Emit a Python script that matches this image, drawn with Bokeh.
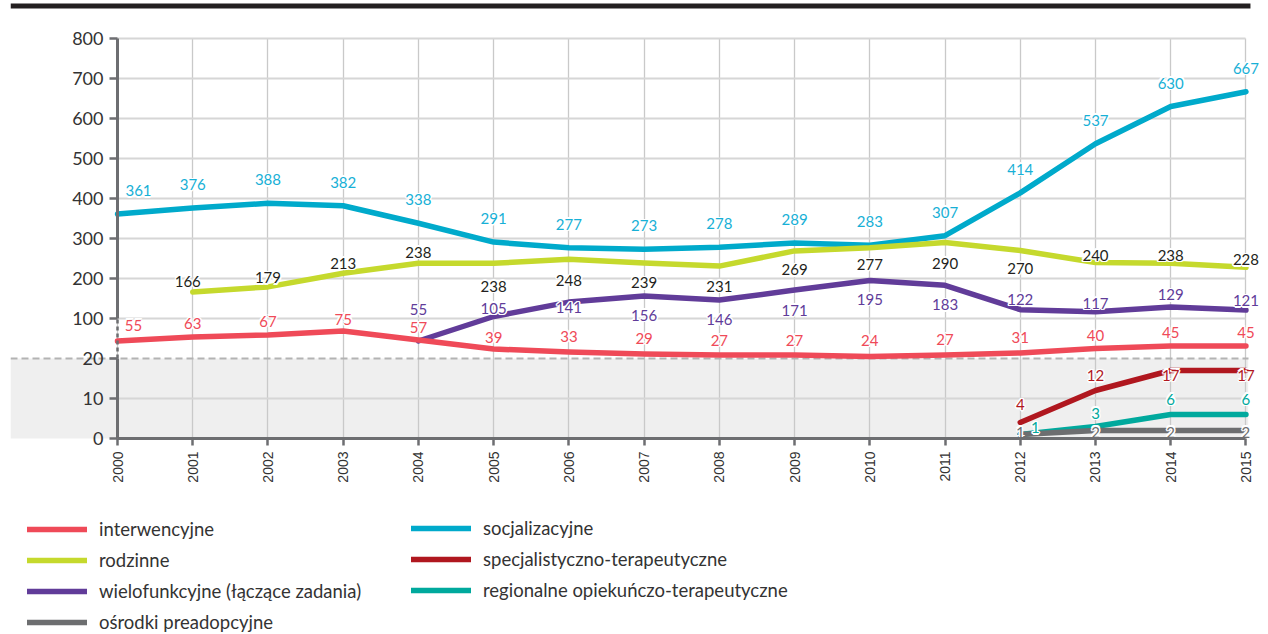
import math
import numpy as np
from bokeh.plotting import figure
from bokeh.models import (Range1d, LinearAxis, FixedTicker, Grid, BoxAnnotation,
                          ColumnDataSource, CustomJSTransform, Legend, LegendItem)
from bokeh.transform import transform
from bokeh.core.properties import value
from bokeh.embed import file_html
from bokeh.resources import INLINE

# ---------------- data ----------------
years = list(range(2000, 2016))
interwencyjne = [55, 63, 67, 75, 57, 39, 33, 29, 27, 27, 24, 27, 31, 40, 45, 45]
socjalizacyjne = [361, 376, 388, 382, 338, 291, 277, 273, 278, 289, 283, 307, 414, 537, 630, 667]
rodzinne = [None, 166, 179, 213, 238, 238, 248, 239, 231, 269, 277, 290, 270, 240, 238, 228]
wielofunkcyjne = [None, None, None, None, 55, 105, 141, 156, 146, 171, 195, 183, 122, 117, 129, 121]
specjalistyczno_terapeutyczne = [None] * 12 + [4, 12, 17, 17]
regionalne_opiekunczo_terapeutyczne = [None] * 12 + [1, 3, 6, 6]
osrodki_preadopcyjne = [None] * 12 + [1, 2, 2, 2]

y_tick_values = [0, 10, 20, 100, 200, 300, 400, 500, 600, 700, 800]

# ---------------- broken (piecewise) y scale ----------------
SEG_JS = """
function f(v) {
  if (v <= 20) return 4 * v;
  if (v <= 100) return 80 + (v - 20) * 0.5;
  return 120 + (v - 100) * 0.4;
}
"""
yt = CustomJSTransform(func=SEG_JS + "return f(x);",
                       v_func=SEG_JS + "const out = new Float64Array(xs.length); for (let i = 0; i < xs.length; i++) out[i] = f(xs[i]); return out;")


def disp(v):
    if v <= 20:
        return 4 * v
    if v <= 100:
        return 80 + (v - 20) * 0.5
    return 120 + (v - 100) * 0.4


# ---------------- layout constants ----------------
W, H = 1268, 634
LEFT_BORDER = 10
PX_PER_YEAR = 75.23
X_START = years[0] - (117 - LEFT_BORDER) / PX_PER_YEAR
X_END = X_START + (W - LEFT_BORDER) / PX_PER_YEAR
Y_END = disp(0) + 438          # frame top = page top
Y_START = Y_END - H

FONT = value("Lato")
AX = "#6d6e71"
TXT = "#333333"

p = figure(width=W, height=H, x_range=Range1d(X_START, X_END), y_range=Range1d(Y_START, Y_END),
           output_backend="svg", toolbar_location=None, x_axis_type=None, y_axis_type=None,
           min_border_left=LEFT_BORDER, min_border_right=0, min_border_top=0, min_border_bottom=0)
p.outline_line_color = None
p.background_fill_color = "white"
p.border_fill_color = "white"

# grey band for lower (0-20) segment
band = BoxAnnotation(left=X_START, right=years[-1] + 0.03, bottom=disp(0), top=disp(20),
                     fill_color="#efefef", fill_alpha=1, line_color=None, level="underlay")
p.add_layout(band)

# black top bar
bar = BoxAnnotation(left=X_START, right=years[-1] + 0.06, bottom=Y_END - 8, top=Y_END - 3,
                    fill_color="#231f20", fill_alpha=1, line_color=None)
p.add_layout(bar)

# grids
xgrid = Grid(dimension=0, ticker=FixedTicker(ticks=years), bounds=(years[0], years[-1]),
             cross_bounds=(disp(0), disp(800)), grid_line_color="#c9c9c9", grid_line_width=1.3)
ygrid = Grid(dimension=1, ticker=FixedTicker(ticks=[disp(v) for v in y_tick_values if v not in (0, 20)]),
             bounds=(disp(0), disp(800)), cross_bounds=(years[0], years[-1]),
             grid_line_color="#d6d6d6", grid_line_width=2)
dgrid = Grid(dimension=1, ticker=FixedTicker(ticks=[disp(20)]), cross_bounds=(X_START, years[-1] + 0.03),
             grid_line_color="#b3b3b3", grid_line_width=2, grid_line_dash="7 4")
for g in (xgrid, ygrid, dgrid):
    p.add_layout(g)


# axes
def style_axis(ax):
    ax.axis_line_color = AX
    ax.axis_line_width = 3
    ax.major_tick_line_color = AX
    ax.major_tick_line_width = 2.5
    ax.major_tick_in = 0
    ax.major_tick_out = 8
    ax.minor_tick_line_color = None
    ax.major_label_text_color = TXT


upper = [v for v in y_tick_values if v >= 100]
lower = [v for v in y_tick_values if v <= 20]
y_up = LinearAxis(fixed_location=years[0], bounds=(disp(100), disp(800)),
                  ticker=FixedTicker(ticks=[disp(v) for v in upper]),
                  major_label_overrides={disp(v): str(v) for v in upper})
y_lo = LinearAxis(fixed_location=years[0], bounds=(disp(0), disp(20)),
                  ticker=FixedTicker(ticks=[disp(v) for v in lower]),
                  major_label_overrides={disp(v): str(v) for v in lower})
y_mid = LinearAxis(fixed_location=years[0], bounds=(disp(20), disp(100)),
                   ticker=FixedTicker(ticks=[]), major_label_text_alpha=0)
for ax in (y_up, y_lo, y_mid):
    style_axis(ax)
    ax.major_label_text_font = "Lato"
    ax.major_label_text_font_size = "18px"
    ax.major_label_standoff = 6
y_mid.axis_line_dash = "4 3"
y_mid.axis_line_width = 2.5
for ax in (y_up, y_lo, y_mid):
    p.add_layout(ax, "left")

x_ax = LinearAxis(fixed_location=disp(0), bounds=(years[0], years[-1]),
                  ticker=FixedTicker(ticks=years), major_label_orientation=math.pi / 2)
style_axis(x_ax)
x_ax.major_tick_out = 7
x_ax.major_label_text_font = "Liberation Sans"
x_ax.major_label_text_font_size = "14px"
x_ax.major_label_standoff = 6
p.add_layout(x_ax, "below")

# ---------------- series ----------------
series = [
    ("socjalizacyjne", socjalizacyjne, "#00aacb", "#17b0d6"),
    ("rodzinne", rodzinne, "#c5d92d", "#231f20"),
    ("wielofunkcyjne (łączące zadania)", wielofunkcyjne, "#613c99", "#613c99"),
    ("interwencyjne", interwencyjne, "#ef4a58", "#ef4a58"),
    ("specjalistyczno-terapeutyczne", specjalistyczno_terapeutyczne, "#b0171f", "#b0171f"),
    ("regionalne opiekuńczo-terapeutyczne", regionalne_opiekunczo_terapeutyczne, "#00a99d", "#00a99d"),
    ("ośrodki preadopcyjne", osrodki_preadopcyjne, "#6d6e70", "#6d6e70"),
]

# label placement (screen px, + = down / right), layout only
LABEL_DY = {
    "socjalizacyjne": [-23.5] * 16,
    "rodzinne": [0, -11, -9, -10, -11, 23, 21, 20, 20, 19, 17, 20.5, 17.5, -7.5, -8, -7.5],
    "wielofunkcyjne (łączące zadania)": [0, 0, 0, 0, -32, -8.5, 5.5, 19, 19.5, 20, 18.5, 19.5, -10.5, -8.5, -12, -9.5],
    "interwencyjne": [-16, -13.5, -14, -12, -12.5, -11.5, -16, -16, -15, -15, -16.5, -16, -15.5, -13.5, -14, -14],
    "specjalistyczno-terapeutyczne": [0] * 12 + [-18, -15, 4.5, 4.5],
    "regionalne opiekuńczo-terapeutyczne": [0] * 12 + [-7, -13.5, -15.5, -15.5],
    "ośrodki preadopcyjne": [0] * 12 + [-2.5, 1.5, 1.5, 1.5],
}
LABEL_DX = {
    "socjalizacyjne": {2000: 21},
    "interwencyjne": {2000: 16},
    "rodzinne": {2001: -5},
    "regionalne opiekuńczo-terapeutyczne": {2012: 15},
}

renderers = {}
for name, vals, lc, tc in series:
    src = ColumnDataSource(dict(year=years, v=np.array(vals, dtype=float)))
    r = p.line(x="year", y=transform("v", yt), source=src, line_color=lc, line_width=5.5,
               line_cap="round", line_join="round")
    renderers[name] = r

lab = dict(year=[], v=[], txt=[], color=[], dx=[], dy=[])
for name, vals, lc, tc in series:
    for i, (yr, val) in enumerate(zip(years, vals)):
        if val is None:
            continue
        lab["year"].append(yr)
        lab["v"].append(float(val))
        lab["txt"].append(str(val))
        lab["color"].append(tc)
        lab["dx"].append(LABEL_DX.get(name, {}).get(yr, 0))
        lab["dy"].append(LABEL_DY[name][i])

halo = [(-1.5, 0), (1.5, 0), (0, -1.5), (0, 1.5), (-1.1, -1.1), (1.1, 1.1), (-1.1, 1.1), (1.1, -1.1)]
for k, (ox, oy) in enumerate(halo):
    lab[f"hx{k}"] = [d + ox for d in lab["dx"]]
    lab[f"hy{k}"] = [d + oy for d in lab["dy"]]
lsrc = ColumnDataSource(lab)
for k in range(len(halo)):
    p.text(x="year", y=transform("v", yt), text="txt", source=lsrc, x_offset=f"hx{k}", y_offset=f"hy{k}",
           text_color="white", text_font=FONT, text_font_size="15px",
           text_align="center", text_baseline="middle")
p.text(x="year", y=transform("v", yt), text="txt", source=lsrc, x_offset="dx", y_offset="dy",
       text_color="color", text_font=FONT, text_font_size="15px",
       text_align="center", text_baseline="middle")


# ---------------- legends ----------------
def make_legend(names, loc):
    return Legend(items=[LegendItem(label=n, renderers=[renderers[n]]) for n in names],
                  location=loc, orientation="vertical", glyph_width=60, glyph_height=20,
                  label_height=22, spacing=9, label_standoff=12, padding=0, margin=0,
                  border_line_color=None, background_fill_alpha=0,
                  label_text_font="Lato", label_text_font_size="18.5px", label_text_color=TXT)


p.add_layout(make_legend(["interwencyjne", "rodzinne", "wielofunkcyjne (łączące zadania)",
                          "ośrodki preadopcyjne"], (27 - LEFT_BORDER, 1)))
p.add_layout(make_legend(["socjalizacyjne", "specjalistyczno-terapeutyczne",
                          "regionalne opiekuńczo-terapeutyczne"], (411 - LEFT_BORDER, 33)))

open("out.html", "w").write(file_html(p, INLINE))
